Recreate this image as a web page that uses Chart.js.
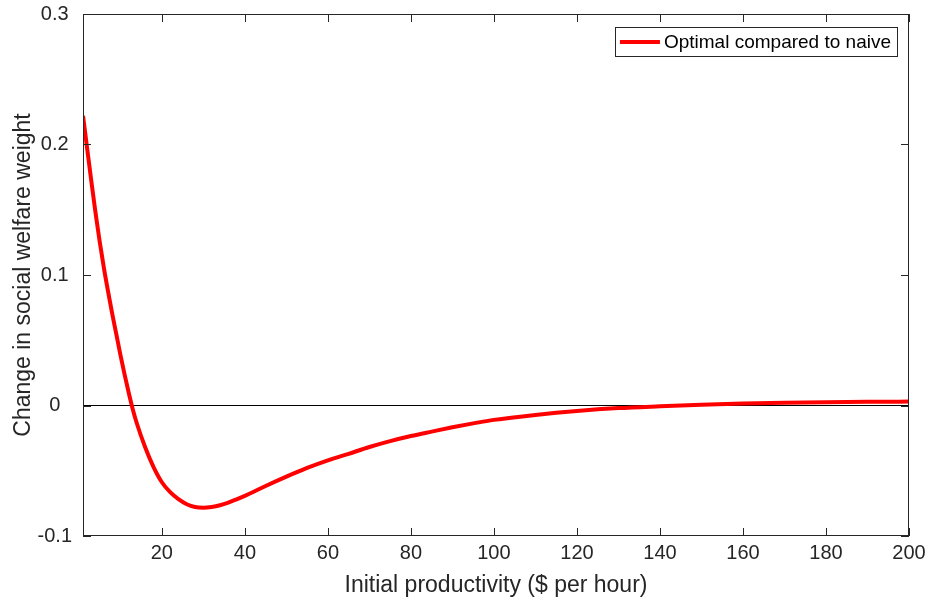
<!DOCTYPE html>
<html>
<head>
<meta charset="utf-8">
<script src="https://cdn.jsdelivr.net/npm/chart.js@4/dist/chart.umd.min.js"></script>
<style>
  html, body { margin: 0; padding: 0; background: #fff; }
  #wrap { width: 929px; height: 603px; }
</style>
</head>
<body>
<div id="wrap"><canvas id="c" width="929" height="603"></canvas></div>
<script>
const productivity = [1, 2, 3, 4, 5, 6, 7, 8, 9, 10, 11, 12, 13, 14, 16, 18, 20, 22, 24, 26, 28, 30, 32, 34, 36, 38, 40, 42, 45, 50, 55, 60, 65, 70, 75, 80, 85, 90, 95, 100, 110, 120, 130, 140, 150, 160, 170, 180, 190, 200];
const welfareChange = [0.222, 0.197, 0.172, 0.148, 0.126, 0.106, 0.088, 0.071, 0.055, 0.039, 0.024, 0.010, -0.003, -0.014, -0.0322, -0.0472, -0.0588, -0.0664, -0.0718, -0.0757, -0.0778, -0.0783, -0.0777, -0.0764, -0.0744, -0.0719, -0.0692, -0.0663, -0.0617, -0.0545, -0.0478, -0.042, -0.037, -0.0318, -0.0273, -0.0234, -0.020, -0.0167, -0.0137, -0.011, -0.0072, -0.0042, -0.002, -0.0006, 0.0006, 0.0015, 0.0021, 0.0025, 0.0028, 0.003];
const seriesLabel = 'Optimal compared to naive';
const xTickValues = [20, 40, 60, 80, 100, 120, 140, 160, 180, 200];
const yTickValues = [-0.1, 0, 0.1, 0.2, 0.3];
const xTitle = 'Initial productivity ($ per hour)';
const yTitle = 'Change in social welfare weight';

const FONT = "'Liberation Sans', Arial, Helvetica, sans-serif";
const AXIS_COLOR = '#262626';

const boxPlugin = {
  id: 'boxPlugin',
  afterDatasetsDraw(chart) {
    const ctx = chart.ctx;
    const a = chart.chartArea;
    const xs = chart.scales.x, ys = chart.scales.y;
    ctx.save();
    ctx.strokeStyle = AXIS_COLOR;
    ctx.lineWidth = 1;
    ctx.strokeRect(Math.round(a.left) + 0.5, Math.round(a.top) + 0.5, Math.round(a.right - a.left) - 1, Math.round(a.bottom - a.top) - 1);
    const L = 8;
    ctx.beginPath();
    xTickValues.forEach(v => {
      const px = Math.round(xs.getPixelForValue(v)) + 0.5;
      ctx.moveTo(px, a.bottom); ctx.lineTo(px, a.bottom - L);
      ctx.moveTo(px, a.top); ctx.lineTo(px, a.top + L);
    });
    yTickValues.forEach(v => {
      const py = Math.round(ys.getPixelForValue(v)) + 0.5;
      ctx.moveTo(a.left, py); ctx.lineTo(a.left + L, py);
      ctx.moveTo(a.right, py); ctx.lineTo(a.right - L, py);
    });
    ctx.stroke();

    // legend box inside plot
    const ds = chart.data.datasets[0];
    ctx.font = '19px ' + FONT;
    const tw = ctx.measureText(ds.label).width;
    const sample = 40, gap = 4, padL = 5, padR = 6;
    const w = padL + sample + gap + tw + padR;
    const h = 29;
    const right = a.right - 12;
    const top = a.top + 13;
    const left = right - w;
    ctx.fillStyle = '#ffffff';
    ctx.fillRect(left, top, w, h);
    ctx.strokeStyle = AXIS_COLOR;
    ctx.lineWidth = 1;
    ctx.strokeRect(Math.round(left) + 0.5, top + 0.5, Math.round(w), h);
    ctx.strokeStyle = ds.borderColor;
    ctx.lineWidth = ds.borderWidth;
    ctx.beginPath();
    ctx.moveTo(left + padL, top + h / 2 + 0.5);
    ctx.lineTo(left + padL + sample, top + h / 2 + 0.5);
    ctx.stroke();
    ctx.fillStyle = '#000000';
    ctx.textBaseline = 'middle';
    ctx.textAlign = 'left';
    ctx.fillText(ds.label, left + padL + sample + gap, top + h / 2 + 1);
    ctx.restore();
  }
};

new Chart(document.getElementById('c'), {
  type: 'line',
  data: {
    datasets: [{
      label: seriesLabel,
      data: productivity.map((x, i) => ({ x: x, y: welfareChange[i] })),
      borderColor: '#ff0000',
      borderWidth: 4,
      pointRadius: 0,
      cubicInterpolationMode: 'monotone',
      fill: false
    }]
  },
  options: {
    responsive: false,
    animation: false,
    devicePixelRatio: 1,
    layout: { padding: { top: 14, right: 20, left: 0, bottom: 0 } },
    plugins: { legend: { display: false }, tooltip: { enabled: false } },
    scales: {
      x: {
        type: 'linear',
        min: 1, max: 200,
        afterBuildTicks: s => { s.ticks = xTickValues.map(v => ({ value: v })); },
        afterFit: s => { s.height = 67; s.paddingLeft = 0; s.paddingRight = 0; s.paddingTop = 0; s.paddingBottom = 0; },
        grid: { display: false, drawTicks: false },
        border: { display: false },
        ticks: { color: AXIS_COLOR, font: { family: FONT, size: 20 }, padding: 5, maxRotation: 0 },
        title: { display: true, text: xTitle, color: AXIS_COLOR, font: { family: FONT, size: 23 }, padding: { top: 0, bottom: 4 } }
      },
      y: {
        type: 'linear',
        min: -0.1, max: 0.3,
        afterBuildTicks: s => { s.ticks = yTickValues.map(v => ({ value: v })); },
        afterFit: s => { s.width = 83; s.paddingLeft = 0; s.paddingRight = 0; s.paddingTop = 0; s.paddingBottom = 0; },
        grid: {
          drawTicks: false,
          color: c => (c.tick && Math.abs(c.tick.value) < 1e-9) ? '#000000' : 'rgba(0,0,0,0)',
          lineWidth: 1
        },
        border: { display: false },
        ticks: { color: AXIS_COLOR, font: { family: FONT, size: 20 }, padding: 11, crossAlign: 'center', callback: v => String(Math.round(v * 10) / 10) },
        title: { display: true, text: yTitle, color: AXIS_COLOR, font: { family: FONT, size: 23 }, padding: { top: 10, bottom: 0 } }
      }
    }
  },
  plugins: [boxPlugin]
});
</script>
</body>
</html>
